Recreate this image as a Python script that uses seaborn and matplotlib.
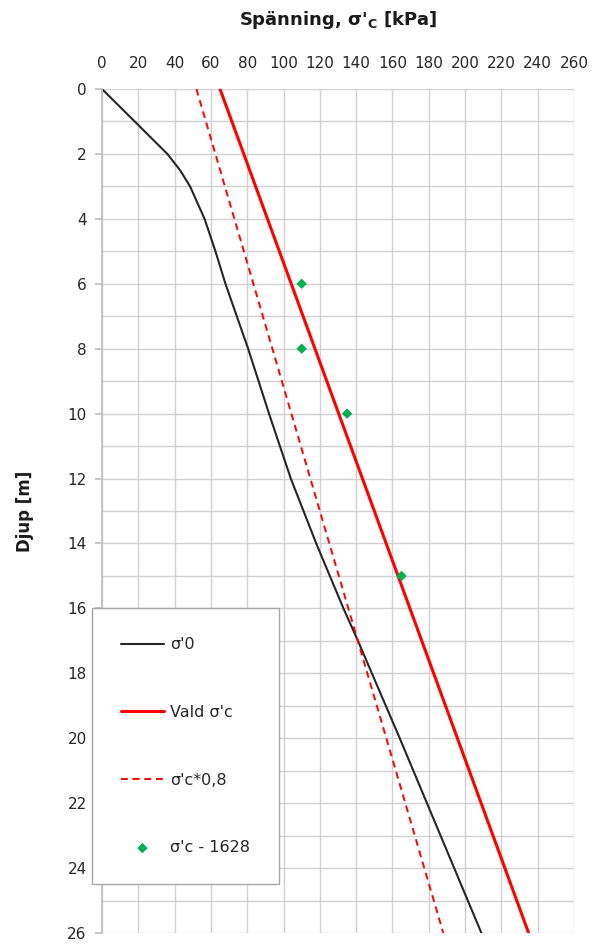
import matplotlib
matplotlib.use("Agg")
import matplotlib.pyplot as plt
import seaborn as sns
import pandas as pd
from matplotlib.ticker import MultipleLocator

# ---- data ----
depth_s0 = [0, 2, 2.5, 3, 4, 5, 6, 8, 10, 12, 14, 16, 17, 20, 24, 26]
s0_vals = [0, 36, 43, 48.5, 56.5, 62.5, 68, 80.5, 92, 104, 118, 133, 141, 164, 194, 209]

depth_sc = [0, 26]
sc_vals = [65, 235]
sc08_vals = [52, 188]

depth_pts = [6, 8, 10, 15]
pts_vals = [110, 110, 135, 165]

x_ticks = list(range(0, 261, 20))
y_ticks = list(range(0, 27, 2))

labels = ["σ'0", "Vald σ'c", "σ'c*0,8", "σ'c - 1628"]

sns.set_theme(style="white")
plt.rcParams['font.family'] = ['DejaVu Sans']

fig = plt.figure(figsize=(5.95, 9.44), dpi=100)
ax = fig.add_axes([102/595, 1-933/944, 472/595, 844/944])

df0 = pd.DataFrame({"x": s0_vals, "y": depth_s0})
dfc = pd.DataFrame({"x": sc_vals, "y": depth_sc})
dfc8 = pd.DataFrame({"x": sc08_vals, "y": depth_sc})
dfp = pd.DataFrame({"x": pts_vals, "y": depth_pts})

sns.lineplot(data=df0, x="x", y="y", sort=False, color="#262626", lw=1.5, ax=ax, label=labels[0])
sns.lineplot(data=dfc, x="x", y="y", sort=False, color="#ff0000", lw=2.2, ax=ax, label=labels[1])
sns.lineplot(data=dfc8, x="x", y="y", sort=False, color="#ff0000", lw=1.4, ax=ax,
             linestyle=(0, (3.5, 2.5)), label=labels[2])
sns.scatterplot(data=dfp, x="x", y="y", color="#00b050", marker="D", s=28, edgecolor="none",
                ax=ax, label=labels[3], zorder=5)

ax.set_xlim(0, 260)
ax.set_ylim(26, 0)
ax.set_xticks(x_ticks)
ax.set_yticks(y_ticks)
ax.yaxis.set_minor_locator(MultipleLocator(1))
ax.xaxis.tick_top()
ax.xaxis.set_label_position("top")
ax.grid(True, which="major", color="#d0d0d0", lw=1.0)
ax.grid(True, which="minor", axis="y", color="#d0d0d0", lw=1.0)
ax.tick_params(axis="x", which="both", length=0, labelsize=11, pad=13, labelcolor="#262626")
ax.tick_params(axis="y", which="major", length=5, color="#bfbfbf", labelsize=11, pad=6,
               labelcolor="#262626", left=True)
ax.tick_params(axis="y", which="minor", length=0)
for s in ax.spines.values():
    s.set_visible(False)
ax.spines["left"].set_visible(True)
ax.spines["left"].set_color("#bfbfbf")

ax.set_xlabel("")
ax.set_ylabel("Djup [m]", fontsize=12, fontweight="bold", labelpad=24, color="#1a1a1a")
fig.text(338/595, 1-20/944, r"Spänning, σ'$_\mathbf{C}$ [kPa]", ha="center", va="center",
         fontsize=13, fontweight="bold", color="#1a1a1a")

leg = ax.legend(loc="lower left", bbox_to_anchor=(-0.021, 0.058), borderaxespad=0,
                fontsize=11.5, labelspacing=3.3, handlelength=2.7, handletextpad=0.4,
                borderpad=1.8, fancybox=False, frameon=True, markerscale=1.0)
leg.get_frame().set_edgecolor("#a6a6a6")
leg.get_frame().set_linewidth(1.0)
leg.get_frame().set_facecolor("white")
leg.get_frame().set_alpha(1)

fig.savefig("out.png", dpi=100)
